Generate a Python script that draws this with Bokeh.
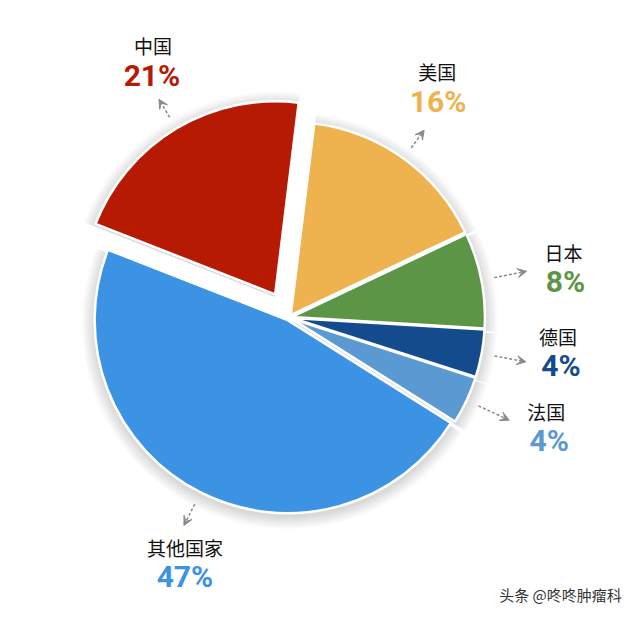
import numpy as np
from bokeh.plotting import figure
from bokeh.models import Range1d, Arrow, VeeHead, ColumnDataSource
from bokeh.core.properties import value
from bokeh.embed import file_html
from bokeh.resources import INLINE

# ---- data ----
countries = ["中国", "美国", "日本", "德国", "法国", "其他国家"]
shares = [21, 16, 8, 4, 4, 47]
pct_labels = ["21%", "16%", "8%", "4%", "4%", "47%"]

# ---- styles / layout ----
colors = ["#B71A03", "#EEB24F", "#5D9546", "#144B8C", "#5B99D3", "#3C93E3"]
H = 621
START_DEG = 158.6
CX, CY = 288.5, H - 317.0
R = 193.0
explode = [27, 3, 3, 3, 3, 3]
R_TAIL = 206.0
R_HEAD = [227, 228, 239, 238, 240, 230]
# label offsets (px, screen: x right, y down) relative to arrow head
name_off = [(-6, -54), (13, -59), (37, -19), (32, -25), (37, -9), (1, 22)]
pct_off = [(-7, -24), (14, -29), (39, 10), (35, 4), (40, 20), (1, 51)]

total = float(sum(shares))
spans = [s / total * 2 * np.pi for s in shares]
starts, ends, mids, xs, ys = [], [], [], [], []
a = np.deg2rad(START_DEG)
for sp, ex in zip(spans, explode):
    s, e = a - sp, a
    m = (s + e) / 2
    starts.append(s); ends.append(e); mids.append(m)
    xs.append(CX + ex * np.cos(m)); ys.append(CY + ex * np.sin(m))
    a -= sp

p = figure(width=624, height=605, output_backend="svg", toolbar_location=None,
           x_range=Range1d(0, 624), y_range=Range1d(H - 605, H), min_border=0)
p.axis.visible = False
p.grid.visible = False
p.outline_line_color = None
p.background_fill_color = "white"
p.border_fill_color = "white"

# soft shadow
for k in range(1, 14):
    p.wedge(x=xs, y=[y - 3 for y in ys], radius=R + k, start_angle=starts, end_angle=ends,
            fill_color="black", fill_alpha=0.012, line_color=None)

src = ColumnDataSource(dict(x=xs, y=ys, s=starts, e=ends, c=colors))
p.wedge(x="x", y="y", radius=R, start_angle="s", end_angle="e", fill_color="c",
        line_color="white", line_width=2.5, source=src)

# arrows and labels
tx, ty, hx, hy = [], [], [], []
for x0, y0, m, rh in zip(xs, ys, mids, R_HEAD):
    tx.append(x0 + R_TAIL * np.cos(m)); ty.append(y0 + R_TAIL * np.sin(m))
    hx.append(x0 + rh * np.cos(m)); hy.append(y0 + rh * np.sin(m))
asrc = ColumnDataSource(dict(x0=tx, y0=ty, x1=hx, y1=hy))
p.add_layout(Arrow(end=VeeHead(size=9, fill_color="#8a8a8a", line_color="#8a8a8a"),
                   x_start="x0", y_start="y0", x_end="x1", y_end="y1", source=asrc,
                   line_color="#8a8a8a", line_dash="3 2", line_width=1.5))

nx = [h + o[0] for h, o in zip(hx, name_off)]
ny = [h - o[1] for h, o in zip(hy, name_off)]
px_ = [h + o[0] for h, o in zip(hx, pct_off)]
py_ = [h - o[1] for h, o in zip(hy, pct_off)]
p.text(x=nx, y=ny, text=countries, text_font=value("Noto Sans CJK SC"),
       text_font_size="19px", text_align="center", text_baseline="middle", text_color="#111111")
p.text(x=px_, y=py_, text=pct_labels, text_font=value("Roboto"), text_font_style="bold",
       text_font_size="30px", text_align="center", text_baseline="middle", text_color=colors)

p.text(x=[560], y=[H - 594], text=["头条 @咚咚肿瘤科"], text_font=value("Noto Sans CJK SC"),
       text_font_size="15px", text_align="center", text_baseline="middle", text_color="#333333")

open("out.html", "w").write(file_html(p, INLINE))
